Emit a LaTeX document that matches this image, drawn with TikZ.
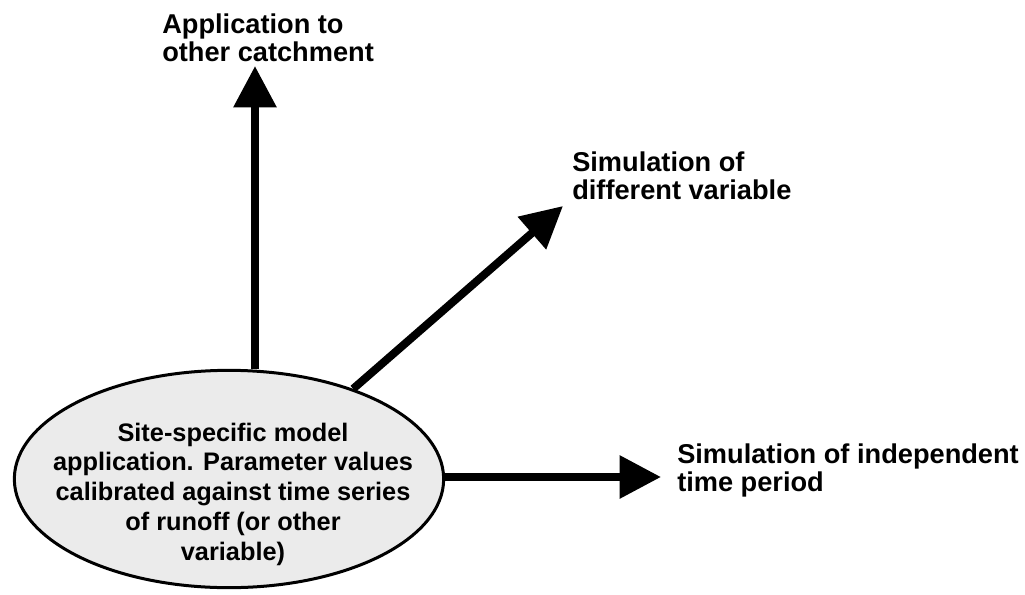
\documentclass[tikz,border=0pt]{standalone}
\usepackage{fontspec}
\setmainfont{Liberation Sans}
\usetikzlibrary{arrows.meta,positioning,shapes.geometric}
\definecolor{sitegray}{HTML}{EBEBEB}
\tikzset{
    site/.style={
        draw,
        ellipse,
        line width=2.25pt,
        fill=sitegray,
        inner sep=0pt,
        minimum width=322pt,
        minimum height=163pt
    },
    sitetext/.style={
        align=center,
        inner sep=0pt,
        font=\bfseries\fontsize{19}{22.3}\selectfont
    },
    outcome/.style={
        align=left,
        anchor=north west,
        inner sep=0pt,
        font=\bfseries\fontsize{20.4}{21}\selectfont
    },
    flow/.style={-{Triangle[length=31pt,width=31pt]}, line width=6pt}
}

\begin{document}
\begin{tikzpicture}[x=0.75pt,y=-0.75pt]
    \useasboundingbox (0,0) rectangle (1025,594);
    \node[site] (site) at (229,479) {};
    \node[sitetext] (sitetxt) at (233,494) {Site-specific model\\application. Parameter values\\calibrated against time series\\of runoff (or other\\variable)};
    \node[outcome] (app) at (162,14) {Application to\\other catchment};
    \node[outcome] (var) at (572,152) {Simulation of\\different variable};
    \node[outcome] (per) at (677,444) {Simulation of independent\\time period};
    \coordinate (appTip) at (255,66);
    \coordinate (varTip) at (563,206);
    \coordinate (perTip) at (661,477);
    \draw[flow] (site.north -| appTip) -- (appTip);
    \draw[flow] (site.36) -- (varTip);
    \draw[flow] (site.east |- perTip) -- (perTip);
\end{tikzpicture}
\end{document}
